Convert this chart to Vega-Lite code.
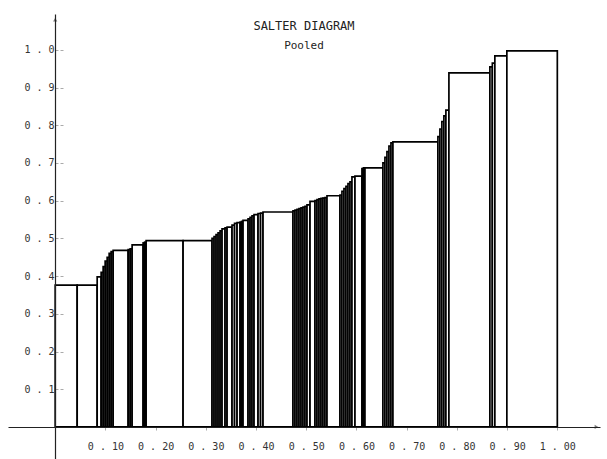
{
  "$schema": "https://vega.github.io/schema/vega-lite/v6.json",
  "width": 592,
  "height": 445,
  "autosize": {"type": "none"},
  "padding": {"left": 8, "top": 14, "right": 7, "bottom": 0},
  "background": "white",
  "title": {
    "text": "SALTER DIAGRAM",
    "subtitle": "Pooled",
    "font": "DejaVu Sans Mono",
    "fontSize": 12,
    "fontWeight": "normal",
    "color": "#222",
    "subtitleFont": "DejaVu Sans Mono",
    "subtitleFontSize": 11,
    "subtitleColor": "#222",
    "subtitlePadding": 7,
    "anchor": "middle",
    "frame": "group",
    "offset": -38
  },
  "data": {
    "values": [
      {"x0": 0, "x1": 0.0438, "h": 0.376},
      {"x0": 0.0438, "x1": 0.0836, "h": 0.376},
      {"x0": 0.0836, "x1": 0.0915, "h": 0.398},
      {"x0": 0.0915, "x1": 0.0955, "h": 0.41},
      {"x0": 0.0955, "x1": 0.0995, "h": 0.425},
      {"x0": 0.0995, "x1": 0.1035, "h": 0.44},
      {"x0": 0.1035, "x1": 0.1075, "h": 0.45},
      {"x0": 0.1075, "x1": 0.1114, "h": 0.46},
      {"x0": 0.1114, "x1": 0.1154, "h": 0.465},
      {"x0": 0.1154, "x1": 0.1453, "h": 0.468},
      {"x0": 0.1453, "x1": 0.1493, "h": 0.47},
      {"x0": 0.1493, "x1": 0.1532, "h": 0.472},
      {"x0": 0.1532, "x1": 0.1751, "h": 0.483},
      {"x0": 0.1751, "x1": 0.1781, "h": 0.488},
      {"x0": 0.1781, "x1": 0.1811, "h": 0.49},
      {"x0": 0.1811, "x1": 0.2547, "h": 0.494},
      {"x0": 0.2547, "x1": 0.3124, "h": 0.494},
      {"x0": 0.3124, "x1": 0.3164, "h": 0.5},
      {"x0": 0.3164, "x1": 0.3204, "h": 0.505},
      {"x0": 0.3204, "x1": 0.3244, "h": 0.51},
      {"x0": 0.3244, "x1": 0.3284, "h": 0.515},
      {"x0": 0.3284, "x1": 0.3323, "h": 0.52},
      {"x0": 0.3323, "x1": 0.3383, "h": 0.525},
      {"x0": 0.3383, "x1": 0.3423, "h": 0.528},
      {"x0": 0.3423, "x1": 0.3522, "h": 0.53},
      {"x0": 0.3522, "x1": 0.3572, "h": 0.535},
      {"x0": 0.3572, "x1": 0.3622, "h": 0.54},
      {"x0": 0.3622, "x1": 0.3682, "h": 0.542},
      {"x0": 0.3682, "x1": 0.3711, "h": 0.543},
      {"x0": 0.3711, "x1": 0.3741, "h": 0.545},
      {"x0": 0.3741, "x1": 0.3841, "h": 0.548},
      {"x0": 0.3841, "x1": 0.3881, "h": 0.552},
      {"x0": 0.3881, "x1": 0.392, "h": 0.556},
      {"x0": 0.392, "x1": 0.396, "h": 0.56},
      {"x0": 0.396, "x1": 0.404, "h": 0.563},
      {"x0": 0.404, "x1": 0.409, "h": 0.566},
      {"x0": 0.409, "x1": 0.4139, "h": 0.567},
      {"x0": 0.4139, "x1": 0.4736, "h": 0.57},
      {"x0": 0.4736, "x1": 0.4776, "h": 0.573},
      {"x0": 0.4776, "x1": 0.4816, "h": 0.575},
      {"x0": 0.4816, "x1": 0.4856, "h": 0.577},
      {"x0": 0.4856, "x1": 0.4896, "h": 0.579},
      {"x0": 0.4896, "x1": 0.4935, "h": 0.581},
      {"x0": 0.4935, "x1": 0.4975, "h": 0.583},
      {"x0": 0.4975, "x1": 0.5015, "h": 0.585},
      {"x0": 0.5015, "x1": 0.5075, "h": 0.589},
      {"x0": 0.5075, "x1": 0.5174, "h": 0.598},
      {"x0": 0.5174, "x1": 0.5214, "h": 0.6},
      {"x0": 0.5214, "x1": 0.5254, "h": 0.603},
      {"x0": 0.5254, "x1": 0.5294, "h": 0.605},
      {"x0": 0.5294, "x1": 0.5333, "h": 0.606},
      {"x0": 0.5333, "x1": 0.5373, "h": 0.607},
      {"x0": 0.5373, "x1": 0.5413, "h": 0.608},
      {"x0": 0.5413, "x1": 0.5672, "h": 0.613},
      {"x0": 0.5672, "x1": 0.5711, "h": 0.615},
      {"x0": 0.5711, "x1": 0.5751, "h": 0.625},
      {"x0": 0.5751, "x1": 0.5791, "h": 0.632},
      {"x0": 0.5791, "x1": 0.5831, "h": 0.638},
      {"x0": 0.5831, "x1": 0.5871, "h": 0.645},
      {"x0": 0.5871, "x1": 0.591, "h": 0.65},
      {"x0": 0.591, "x1": 0.597, "h": 0.663},
      {"x0": 0.597, "x1": 0.6109, "h": 0.665},
      {"x0": 0.6109, "x1": 0.6139, "h": 0.685},
      {"x0": 0.6139, "x1": 0.6169, "h": 0.687},
      {"x0": 0.6169, "x1": 0.6527, "h": 0.687},
      {"x0": 0.6527, "x1": 0.6567, "h": 0.7},
      {"x0": 0.6567, "x1": 0.6607, "h": 0.715},
      {"x0": 0.6607, "x1": 0.6647, "h": 0.73},
      {"x0": 0.6647, "x1": 0.6687, "h": 0.745},
      {"x0": 0.6687, "x1": 0.6726, "h": 0.753},
      {"x0": 0.6726, "x1": 0.7622, "h": 0.756},
      {"x0": 0.7622, "x1": 0.7662, "h": 0.77},
      {"x0": 0.7662, "x1": 0.7701, "h": 0.79},
      {"x0": 0.7701, "x1": 0.7741, "h": 0.81},
      {"x0": 0.7741, "x1": 0.7781, "h": 0.825},
      {"x0": 0.7781, "x1": 0.7841, "h": 0.84},
      {"x0": 0.7841, "x1": 0.8657, "h": 0.939},
      {"x0": 0.8657, "x1": 0.8706, "h": 0.955},
      {"x0": 0.8706, "x1": 0.8756, "h": 0.965},
      {"x0": 0.8756, "x1": 0.8995, "h": 0.984},
      {"x0": 0.8995, "x1": 1.0, "h": 0.997}
    ]
  },
  "layer": [
    {
      "mark": {"type": "rect", "fill": "white", "stroke": "black", "strokeWidth": 1.7},
      "encoding": {
        "x": {
          "field": "x0",
          "type": "quantitative",
          "scale": {"domain": [-0.094, 1.085], "nice": false, "zero": false},
          "axis": {
            "title": null,
            "values": [0.1, 0.2, 0.3, 0.4, 0.5, 0.6, 0.7, 0.8, 0.9, 1.0],
            "labelExpr": "replace(format(datum.value, '.2f'), '.', ' . ')",
            "grid": false,
            "offset": -32,
            "domainColor": "#222",
            "domainWidth": 1.2,
            "tickSize": 3,
            "tickColor": "#aaa",
            "labelFont": "DejaVu Sans Mono",
            "labelFontSize": 10,
            "labelColor": "#333",
            "labelPadding": 11,
            "zindex": 1
          }
        },
        "x2": {"field": "x1"},
        "y": {
          "field": "h",
          "type": "quantitative",
          "scale": {"domain": [-0.085, 1.095], "nice": false, "zero": false},
          "axis": {
            "title": null,
            "values": [0.1, 0.2, 0.3, 0.4, 0.5, 0.6, 0.7, 0.8, 0.9, 1.0],
            "labelExpr": "replace(format(datum.value, '.1f'), '.', ' . ')",
            "grid": false,
            "offset": -47,
            "domainColor": "#222",
            "domainWidth": 1.2,
            "tickSize": -10,
            "tickColor": "#aaa",
            "tickDash": [3, 2],
            "labelFont": "DejaVu Sans Mono",
            "labelFontSize": 10,
            "labelColor": "#333",
            "labelPadding": 11,
            "zindex": 1
          }
        },
        "y2": {"datum": 0}
      }
    },
    {
      "data": {"values": [{"k": "top"}]},
      "mark": {"type": "point", "shape": "triangle-up", "filled": true, "color": "#444", "size": 18},
      "encoding": {"x": {"datum": 0}, "y": {"datum": 1.08}}
    },
    {
      "data": {"values": [{"k": "right"}]},
      "mark": {"type": "point", "shape": "triangle-right", "filled": true, "color": "#444", "size": 18},
      "encoding": {"x": {"datum": 1.078}, "y": {"datum": 0}}
    }
  ],
  "config": {"view": {"stroke": null}}
}
